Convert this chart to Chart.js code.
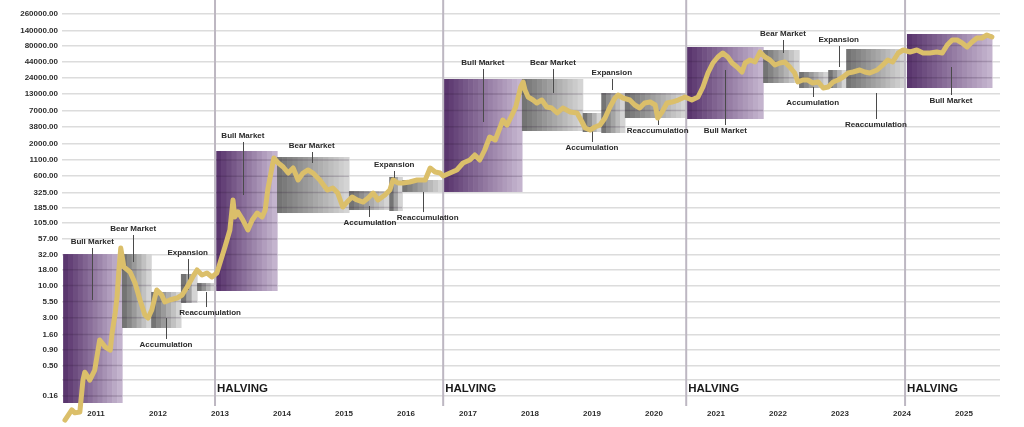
<!DOCTYPE html>
<html>
<head>
<meta charset="utf-8">
<script src="https://cdn.jsdelivr.net/npm/chart.js@4.4.1/dist/chart.umd.min.js"></script>
<style>
  html, body { margin: 0; padding: 0; background: #fff; }
  #wrap { width: 1024px; height: 427px; }
</style>
</head>
<body>
<div id="wrap"><canvas id="btcChart"></canvas></div>
<script>
// Bitcoin cycles on a log price scale, with market phases and halvings

const yTickValues = [260000, 140000, 80000, 44000, 24000, 13000, 7000, 3800, 2000, 1100, 600, 325, 185, 105, 57, 32, 18, 10, 5.5, 3, 1.6, 0.9, 0.5, 0.29, 0.16];
const yTickLabels = ['260000.00', '140000.00', '80000.00', '44000.00', '24000.00', '13000.00', '7000.00', '3800.00', '2000.00', '1100.00', '600.00', '325.00', '185.00', '105.00', '57.00', '32.00', '18.00', '10.00', '5.50', '3.00', '1.60', '0.90', '0.50', '', '0.16'];
const yearTicks = [2011, 2012, 2013, 2014, 2015, 2016, 2017, 2018, 2019, 2020, 2021, 2022, 2023, 2024, 2025];

const priceDates = [
  2010.50, 2010.61, 2010.66, 2010.74, 2010.79, 2010.82, 2010.90, 2010.98, 2011.06, 2011.15,
  2011.23, 2011.26, 2011.31, 2011.34, 2011.37, 2011.40, 2011.45, 2011.55, 2011.63, 2011.71,
  2011.79, 2011.84, 2011.90, 2011.98, 2012.06, 2012.11, 2012.19, 2012.31, 2012.39, 2012.47,
  2012.56, 2012.63, 2012.71, 2012.79, 2012.87, 2012.95, 2013.00, 2013.08, 2013.16, 2013.21,
  2013.24, 2013.29, 2013.37, 2013.45, 2013.52, 2013.60, 2013.68, 2013.73, 2013.77, 2013.84,
  2013.87, 2013.94, 2014.02, 2014.10, 2014.18, 2014.26, 2014.34, 2014.42, 2014.50, 2014.61,
  2014.73, 2014.82, 2014.90, 2014.98, 2015.05, 2015.13, 2015.21, 2015.31, 2015.39, 2015.47,
  2015.55, 2015.66, 2015.74, 2015.79, 2015.87, 2015.95, 2016.06, 2016.18, 2016.31, 2016.39,
  2016.47, 2016.55, 2016.60, 2016.71, 2016.82, 2016.92, 2017.03, 2017.11, 2017.19, 2017.27,
  2017.35, 2017.44, 2017.52, 2017.56, 2017.63, 2017.71, 2017.77, 2017.81, 2017.85, 2017.89,
  2017.92, 2017.97, 2018.05, 2018.11, 2018.19, 2018.27, 2018.35, 2018.44, 2018.53, 2018.65,
  2018.76, 2018.84, 2018.89, 2018.97, 2019.05, 2019.13, 2019.21, 2019.29, 2019.37, 2019.42,
  2019.50, 2019.61, 2019.69, 2019.77, 2019.85, 2019.94, 2020.02, 2020.06, 2020.13, 2020.21,
  2020.29, 2020.39, 2020.50, 2020.61, 2020.71, 2020.79, 2020.87, 2020.95, 2021.03, 2021.11,
  2021.19, 2021.26, 2021.34, 2021.42, 2021.47, 2021.55, 2021.63, 2021.71, 2021.79, 2021.87,
  2021.95, 2022.03, 2022.11, 2022.19, 2022.27, 2022.32, 2022.40, 2022.48, 2022.56, 2022.65,
  2022.73, 2022.81, 2022.89, 2022.97, 2023.05, 2023.13, 2023.21, 2023.32, 2023.40, 2023.48,
  2023.60, 2023.69, 2023.77, 2023.85, 2023.94, 2024.02, 2024.13, 2024.24, 2024.34, 2024.45,
  2024.56, 2024.65, 2024.73, 2024.81, 2024.89, 2024.97, 2025.05, 2025.13, 2025.21, 2025.29,
  2025.37, 2025.45
];
const priceValues = [
  0.065, 0.095, 0.085, 0.088, 0.29, 0.39, 0.29, 0.42, 1.30, 1.00,
  0.89, 1.69, 3.57, 6.51, 17.9, 40.7, 20.0, 16.6, 11.0, 5.82,
  3.32, 2.96, 4.00, 8.46, 7.01, 5.40, 5.82, 6.27, 7.01, 9.46,
  13.8, 17.9, 14.8, 16.0, 13.8, 16.0, 23.2, 42.3, 80.0, 246,
  130, 157, 116, 80, 116, 151, 130, 169, 357, 846,
  1184, 982, 846, 675, 814, 520, 675, 756, 675, 520,
  357, 385, 319, 189, 228, 275, 246, 228, 265, 319,
  246, 296, 357, 520, 465, 465, 482, 520, 520, 814,
  701, 675, 604, 675, 756, 982, 1099, 1325, 1099, 1598,
  2600, 2324, 3781, 4914, 4075, 5925, 8000, 11630, 16900, 20390,
  15110, 11630, 10390, 9286, 10390, 8000, 7700, 6387, 7700, 6630,
  6387, 4559, 3641, 3379, 3781, 4075, 5294, 8000, 11200, 12530,
  11200, 10390, 8614, 7700, 9286, 9640, 8614, 5294, 6630, 9286,
  9640, 10390, 11630, 10390, 11630, 16900, 28550, 41520, 51970, 60380,
  51970, 41520, 35740, 29640, 41520, 46450, 43100, 62680, 51970, 46450,
  38520, 41520, 43100, 35740, 28550, 20390, 21970, 21970, 19640, 20390,
  16280, 16900, 20390, 21970, 24580, 28550, 29640, 31940, 29640, 28550,
  31940, 38520, 46450, 43100, 60380, 67520, 62680, 67520, 60380, 60380,
  62680, 60380, 81450, 98220, 98220, 87800, 75580, 91130, 105900, 105900,
  118500, 109900
];

// market phases: time span and price band
const phaseNames = ['Bull Market', 'Bear Market', 'Accumulation', 'Expansion', 'Reaccumulation',
  'Bull Market', 'Bear Market', 'Accumulation', 'Expansion', 'Reaccumulation',
  'Bull Market', 'Bear Market', 'Accumulation', 'Expansion', 'Reaccumulation',
  'Bull Market', 'Bear Market', 'Accumulation', 'Expansion', 'Reaccumulation', 'Bull Market'];
const phaseStart = [2010.47, 2011.42, 2011.89, 2012.37, 2012.63, 2012.94, 2013.92, 2015.08, 2015.73, 2015.94, 2016.61, 2017.87, 2018.85, 2019.15, 2019.53, 2020.53, 2021.76, 2022.34, 2022.81, 2023.10, 2024.08];
const phaseEnd = [2011.42, 2011.89, 2012.37, 2012.63, 2012.92, 2013.92, 2015.08, 2015.73, 2015.94, 2016.60, 2017.87, 2018.85, 2019.15, 2019.53, 2020.52, 2021.76, 2022.34, 2022.81, 2023.10, 2024.05, 2025.45];
const phaseLow = [0.123, 2.04, 2.04, 5.20, 8.15, 8.15, 151, 169, 163, 332, 332, 3254, 3135, 3020, 5294, 5100, 19640, 16280, 16280, 16280, 16280];
const phaseHigh = [32.5, 32.5, 7.85, 15.4, 11.0, 1540, 1229, 344, 582, 520, 22800, 22800, 6387, 13500, 13500, 75580, 67520, 29640, 31940, 70100, 122950];

// phase captions and their pointer lines
const captionDate = [2010.94, 2011.60, 2012.13, 2012.48, 2012.84, 2013.37, 2014.48, 2015.42, 2015.81, 2016.35, 2017.24, 2018.37, 2019.00, 2019.32, 2020.06, 2021.15, 2022.08, 2022.56, 2022.98, 2023.58, 2024.79];
const captionPrice = [51.0, 83.0, 1.08, 33.8, 3.57, 2700, 1856, 104, 911, 125, 41520, 41520, 1722, 28550, 3254, 3254, 122950, 9286, 98220, 4075, 10010];
const pointerDate = [2010.94, 2011.60, 2012.13, 2012.48, 2012.77, 2013.37, 2014.48, 2015.40, 2015.81, 2016.27, 2017.24, 2018.37, 2019.00, 2019.32, 2020.06, 2021.15, 2022.08, 2022.56, 2022.98, 2023.58, 2024.79];
const pointerPrice = [5.82, 24.1, 2.96, 8.46, 7.85, 296, 982, 196, 465, 332, 4559, 13500, 3641, 15110, 6387, 31940, 60380, 16900, 35740, 13500, 35740];

const halvingDates = [2012.92, 2016.60, 2020.52, 2024.05];

const FONT = "'Liberation Sans', Arial, Helvetica, sans-serif";

const phasesPlugin = {
  id: 'phases',
  beforeDatasetsDraw(chart) {
    const { ctx, chartArea, scales: { x, y } } = chart;
    ctx.save();

    phaseNames.forEach((name, i) => {
      const left = x.getPixelForValue(phaseStart[i]);
      const right = x.getPixelForValue(phaseEnd[i]);
      const top = y.getPixelForValue(phaseHigh[i]);
      const bottom = y.getPixelForValue(phaseLow[i]);
      const cols = name === 'Bull Market'
        ? [[90, 54, 110], [196, 180, 206]]
        : [[116, 116, 116], [212, 212, 212]];
      const w = right - left;
      const bands = Math.max(3, Math.round(w / 5));
      for (let b = 0; b < bands; b++) {
        const t = b / (bands - 1);
        const c = cols[0].map((v, k) => Math.round(v + (cols[1][k] - v) * t));
        ctx.fillStyle = `rgb(${c.join(',')})`;
        ctx.fillRect(left + (w * b) / bands, top, w / bands + 0.6, bottom - top);
      }
      // grid showing through the box
      ctx.strokeStyle = 'rgba(40, 20, 50, 0.2)';
      ctx.lineWidth = 1.5;
      y.ticks.forEach((tk) => {
        const py = y.getPixelForValue(tk.value);
        if (py > top + 1 && py < bottom - 1) {
          ctx.beginPath();
          ctx.moveTo(left, py);
          ctx.lineTo(right, py);
          ctx.stroke();
        }
      });
    });

    // halving lines
    halvingDates.forEach((d) => {
      const px = x.getPixelForValue(d);
      ctx.strokeStyle = '#bdb7c2';
      ctx.lineWidth = 2;
      ctx.beginPath();
      ctx.moveTo(px, chartArea.top);
      ctx.lineTo(px, chartArea.bottom + 2);
      ctx.stroke();
      ctx.fillStyle = '#1a1a1a';
      ctx.font = `bold 11.5px ${FONT}`;
      ctx.textAlign = 'left';
      ctx.textBaseline = 'middle';
      ctx.fillText('HALVING', px + 2, chartArea.bottom - 15);
    });

    // captions with pointer lines
    ctx.font = `bold 8px ${FONT}`;
    ctx.textAlign = 'center';
    ctx.textBaseline = 'middle';
    phaseNames.forEach((name, i) => {
      const tx = x.getPixelForValue(captionDate[i]);
      const ty = y.getPixelForValue(captionPrice[i]);
      const lx = x.getPixelForValue(pointerDate[i]);
      const ly = y.getPixelForValue(pointerPrice[i]);
      const start = ly > ty ? ty + 6 : ty - 6;
      ctx.strokeStyle = '#4a4a4a';
      ctx.lineWidth = 1;
      ctx.beginPath();
      ctx.moveTo(Math.round(lx) + 0.5, start);
      ctx.lineTo(Math.round(lx) + 0.5, ly);
      ctx.stroke();
      ctx.fillStyle = '#2a2a2a';
      ctx.fillText(name, tx, ty);
    });

    ctx.restore();
  }
};

new Chart(document.getElementById('btcChart'), {
  type: 'line',
  data: {
    datasets: [
      {
        label: 'BTC',
        data: priceDates.map((d, i) => ({ x: d, y: priceValues[i] })),
        borderColor: '#dbbf6a',
        borderWidth: 5,
        borderJoinStyle: 'round',
        borderCapStyle: 'round',
        pointRadius: 0,
        tension: 0,
        clip: false,
      },
    ],
  },
  options: {
    responsive: true,
    maintainAspectRatio: false,
    animation: false,
    layout: { padding: { left: 0, right: 24, top: 0, bottom: 0 } },
    plugins: {
      legend: { display: false },
      tooltip: { enabled: false },
    },
    scales: {
      x: {
        type: 'linear',
        min: 2010.452,
        max: 2025.581,
        afterBuildTicks: (s) => { s.ticks = yearTicks.map((v) => ({ value: v })); },
        afterFit: (s) => { s.height = 23; s.paddingLeft = 0; s.paddingRight = 0; },
        grid: { display: false, drawTicks: false },
        border: { display: false },
        ticks: {
          autoSkip: false,
          maxRotation: 0,
          padding: 5,
          color: '#2e2e2e',
          font: { family: FONT, size: 8, weight: 'bold' },
          callback: (v) => String(v),
        },
      },
      y: {
        type: 'logarithmic',
        min: 0.11846,
        max: 439260,
        afterBuildTicks: (s) => { s.ticks = yTickValues.slice().reverse().map((v) => ({ value: v })); },
        afterFit: (s) => { s.width = 62; s.paddingTop = 0; s.paddingBottom = 0; },
        grid: { color: '#dcdcdc', lineWidth: 1.5, drawTicks: false },
        border: { display: false },
        ticks: {
          padding: 4,
          color: '#2e2e2e',
          font: { family: FONT, size: 8, weight: 'bold' },
          callback: (v) => yTickLabels[yTickValues.indexOf(v)],
        },
      },
    },
  },
  plugins: [phasesPlugin],
});
</script>
</body>
</html>
